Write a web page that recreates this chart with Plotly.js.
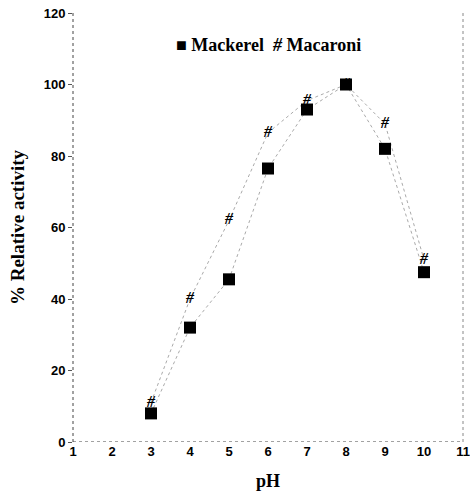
<!DOCTYPE html>
<html><head><meta charset="utf-8">
<script src="https://cdn.plot.ly/plotly-3.0.1.min.js"></script>
<style>html,body{margin:0;padding:0;background:#fff}#chart{width:470px;height:498px}</style>
</head><body><div id="chart"></div>
<script>
const pH = [3, 4, 5, 6, 7, 8, 9, 10];
const mackerel = [8, 32, 45.5, 76.5, 93, 100, 82, 47.5];
const macaroni = [11, 40, 62, 86.5, 95.5, 100, 89, 51];
const xTicks = [1, 2, 3, 4, 5, 6, 7, 8, 9, 10, 11];
const yTicks = [0, 20, 40, 60, 80, 100, 120];

const serif = 'Liberation Serif';
const sans = 'Liberation Sans';

const traces = [
  {x: pH, y: macaroni, mode: 'lines', line: {color: '#aaa', width: 1, dash: 'dot'}, showlegend: false, hoverinfo: 'skip'},
  {x: pH, y: mackerel, mode: 'lines', line: {color: '#aaa', width: 1, dash: 'dot'}, showlegend: false, hoverinfo: 'skip'},
  {x: pH, y: mackerel, mode: 'markers', marker: {symbol: 'square', size: 12, color: '#000'}, name: 'Mackerel', showlegend: false},
  {x: pH, y: macaroni, mode: 'text', text: pH.map(() => '<b><i>#</i></b>'), textposition: 'middle center',
   textfont: {family: serif, size: 16, color: '#000'}, name: 'Macaroni', showlegend: false}
];

const layout = {
  width: 470, height: 498,
  margin: {l: 73, r: 7, t: 13, b: 56},
  paper_bgcolor: '#fff', plot_bgcolor: '#fff',
  showlegend: false,
  xaxis: {
    range: [1, 11], tickvals: xTicks, ticktext: xTicks.map(v => '<b>' + v + '</b>'),
    showgrid: false, zeroline: false, showline: false,
    ticks: '', tickfont: {family: sans, size: 13, color: '#000'},
    title: {text: '<b>pH</b>', font: {family: serif, size: 18, color: '#000'}, standoff: 16}
  },
  yaxis: {
    range: [0, 120], tickvals: yTicks, ticktext: yTicks.map(v => '<b>' + v + '</b>'),
    showgrid: false, zeroline: false, showline: false,
    ticks: 'outside', ticklen: 4, tickcolor: '#555',
    tickfont: {family: sans, size: 13, color: '#000'},
    title: {text: '<b>% Relative activity</b>', font: {family: serif, size: 19, color: '#000'}, standoff: 14}
  },
  shapes: [
    {type: 'line', xref: 'paper', yref: 'paper', x0: 0, x1: 0, y0: 0, y1: 1, line: {color: '#444', width: 1, dash: 'dot'}},
    {type: 'line', xref: 'paper', yref: 'paper', x0: 1, x1: 1, y0: 0, y1: 1, line: {color: '#888', width: 1, dash: 'dot'}},
    {type: 'line', xref: 'x', yref: 'y', x0: 1, x1: 11, y0: 0, y1: 0, line: {color: '#444', width: 1, dash: 'dot'}}
  ],
  annotations: [
    {xref: 'paper', yref: 'y', x: 0.50, y: 111, showarrow: false,
     text: '<b>\u25A0 Mackerel  <i>#</i> Macaroni</b>',
     font: {family: serif, size: 18, color: '#000'}}
  ]
};

Plotly.newPlot('chart', traces, layout, {displayModeBar: false, staticPlot: true});
</script></body></html>
